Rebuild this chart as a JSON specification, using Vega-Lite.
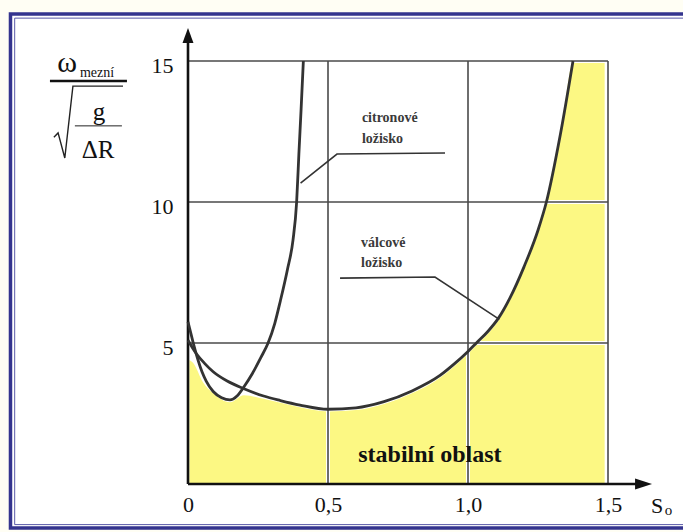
{
  "$schema": "https://vega.github.io/schema/vega-lite/v6.json",
  "width": 420,
  "height": 423,
  "autosize": {"type": "none"},
  "padding": {"left": 188, "top": 61, "right": 75, "bottom": 48},
  "background": "#fffef4",
  "config": {"view": {"stroke": null}, "axis": {"grid": false, "domain": false, "ticks": false, "zindex": 1}, "font": "'Liberation Serif', 'DejaVu Serif', serif"},
  "datasets": {
    "frame": [
      {"part": "outer", "x1": -0.634, "x2": 1.83, "y1": 16.67, "y2": -1.56},
      {"part": "inner", "x1": -0.619, "x2": 1.83, "y1": 16.52, "y2": -1.44}
    ],
    "yellow": [
      {"x": 0.005, "y": 4.4}, {"x": 0.018, "y": 4.3}, {"x": 0.054, "y": 3.6}, {"x": 0.09, "y": 3.22},
      {"x": 0.15, "y": 2.9}, {"x": 0.2, "y": 3.15}, {"x": 0.27, "y": 3.02}, {"x": 0.33, "y": 2.88},
      {"x": 0.4, "y": 2.72}, {"x": 0.5, "y": 2.57}, {"x": 0.6, "y": 2.62}, {"x": 0.7, "y": 2.84},
      {"x": 0.8, "y": 3.22}, {"x": 0.9, "y": 3.77}, {"x": 0.95, "y": 4.17}, {"x": 1.0, "y": 4.62},
      {"x": 1.03, "y": 4.92}, {"x": 1.07, "y": 5.32}, {"x": 1.11, "y": 5.82}, {"x": 1.15, "y": 6.52},
      {"x": 1.2, "y": 7.62}, {"x": 1.25, "y": 8.92}, {"x": 1.28, "y": 9.92}, {"x": 1.33, "y": 12.32},
      {"x": 1.377, "y": 15.0}, {"x": 1.488, "y": 15.0}
    ],
    "grid": [
      {"x1": 0, "x2": 1.5, "y1": 5, "y2": 5},
      {"x1": 0, "x2": 1.5, "y1": 10, "y2": 10},
      {"x1": 0, "x2": 1.5, "y1": 15, "y2": 15},
      {"x1": 0.5, "x2": 0.5, "y1": 0, "y2": 15},
      {"x1": 1.0, "x2": 1.0, "y1": 0, "y2": 15},
      {"x1": 1.5, "x2": 1.5, "y1": 0, "y2": 15}
    ],
    "axes": [
      {"x1": 0, "x2": 0, "y1": 0, "y2": 15.66},
      {"x1": 0, "x2": 1.6, "y1": 0, "y2": 0}
    ],
    "arrows": [
      {"dir": "up", "x": 0, "y": 15.9},
      {"dir": "right", "x": 1.627, "y": 0.0}
    ],
    "curves": [
      {"curve": "citronové", "x": 0, "y": 5.75}, {"curve": "citronové", "x": 0.01, "y": 5.35},
      {"curve": "citronové", "x": 0.02, "y": 4.95}, {"curve": "citronové", "x": 0.035, "y": 4.42},
      {"curve": "citronové", "x": 0.05, "y": 3.98}, {"curve": "citronové", "x": 0.065, "y": 3.65},
      {"curve": "citronové", "x": 0.09, "y": 3.28}, {"curve": "citronové", "x": 0.12, "y": 3.06},
      {"curve": "citronové", "x": 0.15, "y": 2.98}, {"curve": "citronové", "x": 0.175, "y": 3.12},
      {"curve": "citronové", "x": 0.2, "y": 3.45}, {"curve": "citronové", "x": 0.23, "y": 3.92},
      {"curve": "citronové", "x": 0.26, "y": 4.48}, {"curve": "citronové", "x": 0.286, "y": 5.0},
      {"curve": "citronové", "x": 0.31, "y": 5.7}, {"curve": "citronové", "x": 0.33, "y": 6.5},
      {"curve": "citronové", "x": 0.355, "y": 7.6}, {"curve": "citronové", "x": 0.375, "y": 8.65},
      {"curve": "citronové", "x": 0.388, "y": 10.0}, {"curve": "citronové", "x": 0.396, "y": 11.7},
      {"curve": "citronové", "x": 0.404, "y": 13.3}, {"curve": "citronové", "x": 0.412, "y": 15.0},
      {"curve": "válcové", "x": 0, "y": 5.1}, {"curve": "válcové", "x": 0.03, "y": 4.62},
      {"curve": "válcové", "x": 0.06, "y": 4.27}, {"curve": "válcové", "x": 0.09, "y": 3.98},
      {"curve": "válcové", "x": 0.14, "y": 3.65}, {"curve": "válcové", "x": 0.2, "y": 3.38},
      {"curve": "válcové", "x": 0.27, "y": 3.12}, {"curve": "válcové", "x": 0.33, "y": 2.96},
      {"curve": "válcové", "x": 0.4, "y": 2.8}, {"curve": "válcové", "x": 0.5, "y": 2.65},
      {"curve": "válcové", "x": 0.6, "y": 2.7}, {"curve": "válcové", "x": 0.7, "y": 2.92},
      {"curve": "válcové", "x": 0.8, "y": 3.3}, {"curve": "válcové", "x": 0.9, "y": 3.85},
      {"curve": "válcové", "x": 0.95, "y": 4.25}, {"curve": "válcové", "x": 1.0, "y": 4.7},
      {"curve": "válcové", "x": 1.03, "y": 5.0}, {"curve": "válcové", "x": 1.07, "y": 5.4},
      {"curve": "válcové", "x": 1.11, "y": 5.9}, {"curve": "válcové", "x": 1.15, "y": 6.6},
      {"curve": "válcové", "x": 1.2, "y": 7.7}, {"curve": "válcové", "x": 1.25, "y": 9.0},
      {"curve": "válcové", "x": 1.28, "y": 10.0}, {"curve": "válcové", "x": 1.33, "y": 12.4},
      {"curve": "válcové", "x": 1.375, "y": 15.0}
    ],
    "leaders": [
      {"leader": "citron", "i": 0, "x": 0.918, "y": 11.74},
      {"leader": "citron", "i": 1, "x": 0.532, "y": 11.7},
      {"leader": "citron", "i": 2, "x": 0.402, "y": 10.67},
      {"leader": "valec", "i": 0, "x": 0.543, "y": 7.3},
      {"leader": "valec", "i": 1, "x": 0.882, "y": 7.34},
      {"leader": "valec", "i": 2, "x": 1.112, "y": 5.84}
    ],
    "radical": [
      {"i": 0, "x": -0.479, "y": 12.3},
      {"i": 1, "x": -0.464, "y": 12.45},
      {"i": 2, "x": -0.44, "y": 11.56},
      {"i": 3, "x": -0.411, "y": 14.11},
      {"i": 4, "x": -0.232, "y": 14.11}
    ],
    "bars": [
      {"bar": "main", "x1": -0.493, "x2": -0.218, "y": 14.29},
      {"bar": "inner", "x1": -0.404, "x2": -0.236, "y": 12.7}
    ],
    "texts": [
      {"role": "annot", "text": "citronové", "x": 0.621, "y": 12.98},
      {"role": "annot", "text": "ložisko", "x": 0.621, "y": 12.23},
      {"role": "annot", "text": "válcové", "x": 0.618, "y": 8.55},
      {"role": "annot", "text": "ložisko", "x": 0.618, "y": 7.84},
      {"role": "stable", "text": "stabilní oblast", "x": 0.864, "y": 0.78},
      {"role": "big", "text": "ω", "x": -0.432, "y": 14.61},
      {"role": "sub", "text": "mezní", "x": -0.386, "y": 14.43},
      {"role": "mid", "text": "g", "x": -0.318, "y": 12.91},
      {"role": "mid", "text": "ΔR", "x": -0.321, "y": 11.56},
      {"role": "axt", "text": "S", "x": 1.675, "y": -1.03},
      {"role": "axsub", "text": "o", "x": 1.716, "y": -1.1}
    ]
  },
  "layer": [
    {
      "data": {"name": "frame"},
      "transform": [{"filter": "datum.part == 'outer'"}],
      "mark": {"type": "rect", "fill": "#ffffff", "stroke": "#34348e", "strokeWidth": 3.5},
      "encoding": {
        "x": {"field": "x1", "type": "quantitative", "scale": {"domain": [0, 1.5], "nice": false, "zero": false}, "title": null},
        "x2": {"field": "x2"},
        "y": {"field": "y1", "type": "quantitative", "scale": {"domain": [0, 15], "nice": false, "zero": false}, "title": null},
        "y2": {"field": "y2"}
      }
    },
    {
      "data": {"name": "frame"},
      "transform": [{"filter": "datum.part == 'inner'"}],
      "mark": {"type": "rect", "fill": null, "stroke": "#5a5aa8", "strokeWidth": 1},
      "encoding": {
        "x": {"field": "x1", "type": "quantitative", "title": null},
        "x2": {"field": "x2"},
        "y": {"field": "y1", "type": "quantitative", "title": null},
        "y2": {"field": "y2"}
      }
    },
    {
      "data": {"name": "yellow"},
      "mark": {"type": "area", "color": "#fcf883", "interpolate": "monotone"},
      "encoding": {
        "x": {
          "field": "x", "type": "quantitative", "title": null,
          "scale": {"domain": [0, 1.5], "nice": false, "zero": false},
          "axis": {
            "values": [0, 0.5, 1, 1.5], "labelFont": "'Liberation Serif', 'DejaVu Serif', serif", "labelFontSize": 22,
            "labelColor": "#111111", "labelPadding": 10, "labelFlush": false, "labelOverlap": false, "zindex": 1,
            "labelExpr": "datum.value == 0 ? '0' : replace(format(datum.value, '.1f'), '.', ',')"
          }
        },
        "y": {
          "field": "y", "type": "quantitative", "title": null,
          "scale": {"domain": [0, 15], "nice": false, "zero": false},
          "axis": {
            "values": [5, 10, 15], "labelFont": "'Liberation Serif', 'DejaVu Serif', serif", "labelFontSize": 22, "zindex": 1,
            "labelColor": "#111111", "labelPadding": 15, "labelOffset": 4, "format": "d", "labelOverlap": false
          }
        },
        "y2": {"datum": 0}
      }
    },
    {
      "data": {"name": "grid"},
      "mark": {"type": "rule", "color": "#ffffff", "strokeWidth": 4},
      "encoding": {
        "x": {"field": "x1", "type": "quantitative", "title": null},
        "x2": {"field": "x2"},
        "y": {"field": "y1", "type": "quantitative", "title": null},
        "y2": {"field": "y2"}
      }
    },
    {
      "data": {"name": "grid"},
      "mark": {"type": "rule", "color": "#4a4a4a", "strokeWidth": 1.6},
      "encoding": {
        "x": {"field": "x1", "type": "quantitative", "title": null},
        "x2": {"field": "x2"},
        "y": {"field": "y1", "type": "quantitative", "title": null},
        "y2": {"field": "y2"}
      }
    },
    {
      "data": {"name": "axes"},
      "mark": {"type": "rule", "color": "#111111", "strokeWidth": 2.6},
      "encoding": {
        "x": {"field": "x1", "type": "quantitative", "title": null},
        "x2": {"field": "x2"},
        "y": {"field": "y1", "type": "quantitative", "title": null},
        "y2": {"field": "y2"}
      }
    },
    {
      "data": {"name": "arrows"},
      "transform": [{"filter": "datum.dir == 'up'"}],
      "mark": {"type": "point", "shape": "M-0.73,1L0,-1L0.73,1Z", "filled": true, "color": "#111111", "opacity": 1, "size": 225},
      "encoding": {
        "x": {"field": "x", "type": "quantitative", "title": null},
        "y": {"field": "y", "type": "quantitative", "title": null}
      }
    },
    {
      "data": {"name": "arrows"},
      "transform": [{"filter": "datum.dir == 'right'"}],
      "mark": {"type": "point", "shape": "M-1,-0.65L1,0L-1,0.65Z", "filled": true, "color": "#111111", "opacity": 1, "size": 289},
      "encoding": {
        "x": {"field": "x", "type": "quantitative", "title": null},
        "y": {"field": "y", "type": "quantitative", "title": null}
      }
    },
    {
      "data": {"name": "curves"},
      "mark": {"type": "line", "color": "#333333", "strokeWidth": 2.8, "interpolate": "monotone"},
      "encoding": {
        "x": {"field": "x", "type": "quantitative", "title": null},
        "y": {"field": "y", "type": "quantitative", "title": null},
        "detail": {"field": "curve"}
      }
    },
    {
      "data": {"name": "leaders"},
      "mark": {"type": "line", "color": "#333333", "strokeWidth": 1.6},
      "encoding": {
        "x": {"field": "x", "type": "quantitative", "title": null},
        "y": {"field": "y", "type": "quantitative", "title": null},
        "detail": {"field": "leader"},
        "order": {"field": "i"}
      }
    },
    {
      "data": {"name": "radical"},
      "mark": {"type": "line", "color": "#222222", "strokeWidth": 1.4},
      "encoding": {
        "x": {"field": "x", "type": "quantitative", "title": null},
        "y": {"field": "y", "type": "quantitative", "title": null},
        "order": {"field": "i"}
      }
    },
    {
      "data": {"name": "bars"},
      "transform": [{"filter": "datum.bar == 'main'"}],
      "mark": {"type": "rule", "color": "#111111", "strokeWidth": 2.6},
      "encoding": {
        "x": {"field": "x1", "type": "quantitative", "title": null},
        "x2": {"field": "x2"},
        "y": {"field": "y", "type": "quantitative", "title": null}
      }
    },
    {
      "data": {"name": "bars"},
      "transform": [{"filter": "datum.bar == 'inner'"}],
      "mark": {"type": "rule", "color": "#222222", "strokeWidth": 1},
      "encoding": {
        "x": {"field": "x1", "type": "quantitative", "title": null},
        "x2": {"field": "x2"},
        "y": {"field": "y", "type": "quantitative", "title": null}
      }
    },
    {
      "data": {"name": "texts"},
      "transform": [{"filter": "datum.role == 'annot'"}],
      "mark": {"type": "text", "font": "'Liberation Serif', 'DejaVu Serif', serif", "fontWeight": "bold", "fontSize": 14, "align": "left", "baseline": "middle", "color": "#3a3a3a"},
      "encoding": {
        "x": {"field": "x", "type": "quantitative", "title": null},
        "y": {"field": "y", "type": "quantitative", "title": null},
        "text": {"field": "text"}
      }
    },
    {
      "data": {"name": "texts"},
      "transform": [{"filter": "datum.role == 'stable'"}],
      "mark": {"type": "text", "font": "'Liberation Serif', 'DejaVu Serif', serif", "fontWeight": "bold", "fontSize": 24, "align": "center", "baseline": "alphabetic", "color": "#111111"},
      "encoding": {
        "x": {"field": "x", "type": "quantitative", "title": null},
        "y": {"field": "y", "type": "quantitative", "title": null},
        "text": {"field": "text"}
      }
    },
    {
      "data": {"name": "texts"},
      "transform": [{"filter": "datum.role == 'big'"}],
      "mark": {"type": "text", "font": "'Liberation Serif', 'DejaVu Serif', serif", "fontSize": 30, "align": "center", "baseline": "alphabetic", "color": "#111111"},
      "encoding": {
        "x": {"field": "x", "type": "quantitative", "title": null},
        "y": {"field": "y", "type": "quantitative", "title": null},
        "text": {"field": "text"}
      }
    },
    {
      "data": {"name": "texts"},
      "transform": [{"filter": "datum.role == 'sub'"}],
      "mark": {"type": "text", "font": "'Liberation Serif', 'DejaVu Serif', serif", "fontSize": 14, "align": "left", "baseline": "alphabetic", "color": "#111111"},
      "encoding": {
        "x": {"field": "x", "type": "quantitative", "title": null},
        "y": {"field": "y", "type": "quantitative", "title": null},
        "text": {"field": "text"}
      }
    },
    {
      "data": {"name": "texts"},
      "transform": [{"filter": "datum.role == 'mid'"}],
      "mark": {"type": "text", "font": "'Liberation Serif', 'DejaVu Serif', serif", "fontSize": 25, "align": "center", "baseline": "alphabetic", "color": "#111111"},
      "encoding": {
        "x": {"field": "x", "type": "quantitative", "title": null},
        "y": {"field": "y", "type": "quantitative", "title": null},
        "text": {"field": "text"}
      }
    },
    {
      "data": {"name": "texts"},
      "transform": [{"filter": "datum.role == 'axt'"}],
      "mark": {"type": "text", "font": "'Liberation Serif', 'DejaVu Serif', serif", "fontSize": 22, "align": "center", "baseline": "alphabetic", "color": "#111111"},
      "encoding": {
        "x": {"field": "x", "type": "quantitative", "title": null},
        "y": {"field": "y", "type": "quantitative", "title": null},
        "text": {"field": "text"}
      }
    },
    {
      "data": {"name": "texts"},
      "transform": [{"filter": "datum.role == 'axsub'"}],
      "mark": {"type": "text", "font": "'Liberation Serif', 'DejaVu Serif', serif", "fontSize": 15, "align": "center", "baseline": "alphabetic", "color": "#111111"},
      "encoding": {
        "x": {"field": "x", "type": "quantitative", "title": null},
        "y": {"field": "y", "type": "quantitative", "title": null},
        "text": {"field": "text"}
      }
    }
  ]
}
